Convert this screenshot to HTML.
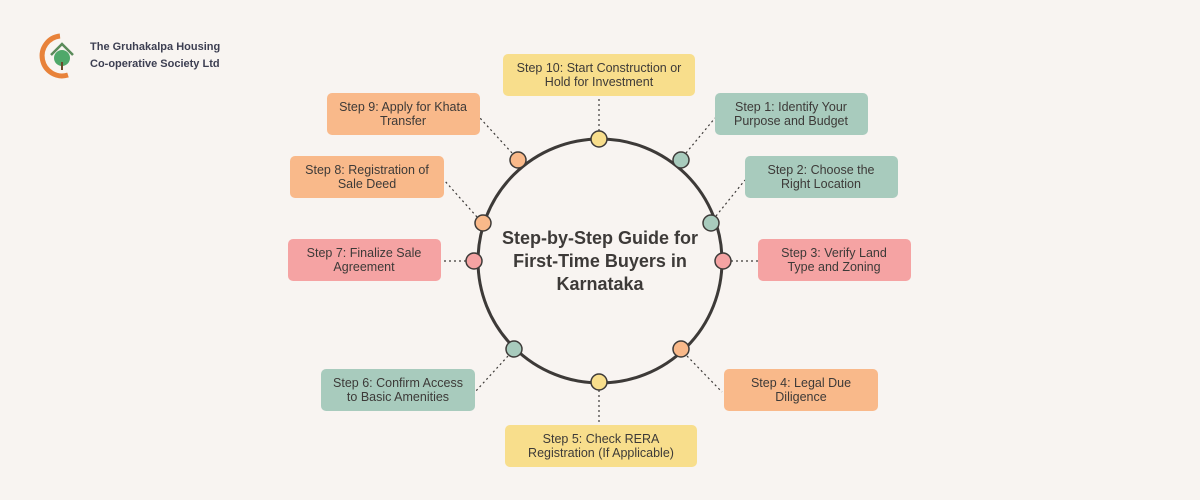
<!DOCTYPE html>
<html><head><meta charset="utf-8"><style>
body{margin:0;background:#f8f4f1;}
svg{display:block}
text{font-family:"Liberation Sans",sans-serif;}
</style></head><body>
<svg width="1200" height="500" viewBox="0 0 1200 500">
<rect width="1200" height="500" fill="#f8f4f1"/>
<path d="M60 36 A20 20 0 1 0 68 75" fill="none" stroke="#e8823a" stroke-width="5"/>
<path d="M51 55 L62 44 L73 55" fill="none" stroke="#5a8a5a" stroke-width="2.5"/>
<circle cx="62" cy="58" r="8" fill="#4fa86a"/>
<rect x="61" y="62" width="2" height="8" fill="#6a4a2a"/>
<text x="90" y="50" font-size="11" font-weight="bold" fill="#3d3f52">The Gruhakalpa Housing</text>
<text x="90" y="67" font-size="11" font-weight="bold" fill="#3d3f52">Co-operative Society Ltd</text>
<g stroke="#3d3a38" stroke-width="1.2" stroke-dasharray="2,3" fill="none">
<line x1="599" y1="131" x2="599" y2="96"/>
<line x1="686" y1="153" x2="715" y2="118"/>
<line x1="716" y1="216" x2="745" y2="180"/>
<line x1="731" y1="261" x2="758" y2="261"/>
<line x1="687" y1="356" x2="722" y2="392"/>
<line x1="599" y1="390" x2="599" y2="425"/>
<line x1="508" y1="356" x2="475" y2="392"/>
<line x1="466" y1="261" x2="441" y2="261"/>
<line x1="477" y1="217" x2="444" y2="180"/>
<line x1="512" y1="153" x2="480" y2="118"/>
</g>
<circle cx="600" cy="261" r="122" fill="none" stroke="#3d3a38" stroke-width="3"/>
<g stroke="#3d3a38" stroke-width="1.5">
<circle cx="599" cy="139" r="8" fill="#f8de8c"/>
<circle cx="681" cy="160" r="8" fill="#a8cbbd"/>
<circle cx="711" cy="223" r="8" fill="#a8cbbd"/>
<circle cx="723" cy="261" r="8" fill="#f5a3a3"/>
<circle cx="681" cy="349" r="8" fill="#f9b98a"/>
<circle cx="599" cy="382" r="8" fill="#f8de8c"/>
<circle cx="514" cy="349" r="8" fill="#a8cbbd"/>
<circle cx="474" cy="261" r="8" fill="#f5a3a3"/>
<circle cx="483" cy="223" r="8" fill="#f9b98a"/>
<circle cx="518" cy="160" r="8" fill="#f9b98a"/>
</g>
<g font-size="18" font-weight="bold" fill="#3d3a38" text-anchor="middle">
<text x="600" y="244">Step-by-Step Guide for</text>
<text x="600" y="267">First-Time Buyers in</text>
<text x="600" y="290">Karnataka</text>
</g>
<g>
<rect x="503" y="54" width="192" height="42" rx="5" fill="#f8de8c"/>
<rect x="715" y="93" width="153" height="42" rx="5" fill="#a8cbbd"/>
<rect x="745" y="156" width="153" height="42" rx="5" fill="#a8cbbd"/>
<rect x="758" y="239" width="153" height="42" rx="5" fill="#f5a3a3"/>
<rect x="724" y="369" width="154" height="42" rx="5" fill="#f9b98a"/>
<rect x="505" y="425" width="192" height="42" rx="5" fill="#f8de8c"/>
<rect x="321" y="369" width="154" height="42" rx="5" fill="#a8cbbd"/>
<rect x="288" y="239" width="153" height="42" rx="5" fill="#f5a3a3"/>
<rect x="290" y="156" width="154" height="42" rx="5" fill="#f9b98a"/>
<rect x="327" y="93" width="153" height="42" rx="5" fill="#f9b98a"/>
</g>
<g font-size="12.5" fill="#3d3a38" text-anchor="middle">
<text x="599" y="72">Step 10: Start Construction or</text><text x="599" y="86">Hold for Investment</text>
<text x="791" y="111">Step 1: Identify Your</text><text x="791" y="125">Purpose and Budget</text>
<text x="821" y="174">Step 2: Choose the</text><text x="821" y="188">Right Location</text>
<text x="834" y="257">Step 3: Verify Land</text><text x="834" y="271">Type and Zoning</text>
<text x="801" y="387">Step 4: Legal Due</text><text x="801" y="401">Diligence</text>
<text x="601" y="443">Step 5: Check RERA</text><text x="601" y="457">Registration (If Applicable)</text>
<text x="398" y="387">Step 6: Confirm Access</text><text x="398" y="401">to Basic Amenities</text>
<text x="364" y="257">Step 7: Finalize Sale</text><text x="364" y="271">Agreement</text>
<text x="367" y="174">Step 8: Registration of</text><text x="367" y="188">Sale Deed</text>
<text x="403" y="111">Step 9: Apply for Khata</text><text x="403" y="125">Transfer</text>
</g>
</svg>
</body></html>
